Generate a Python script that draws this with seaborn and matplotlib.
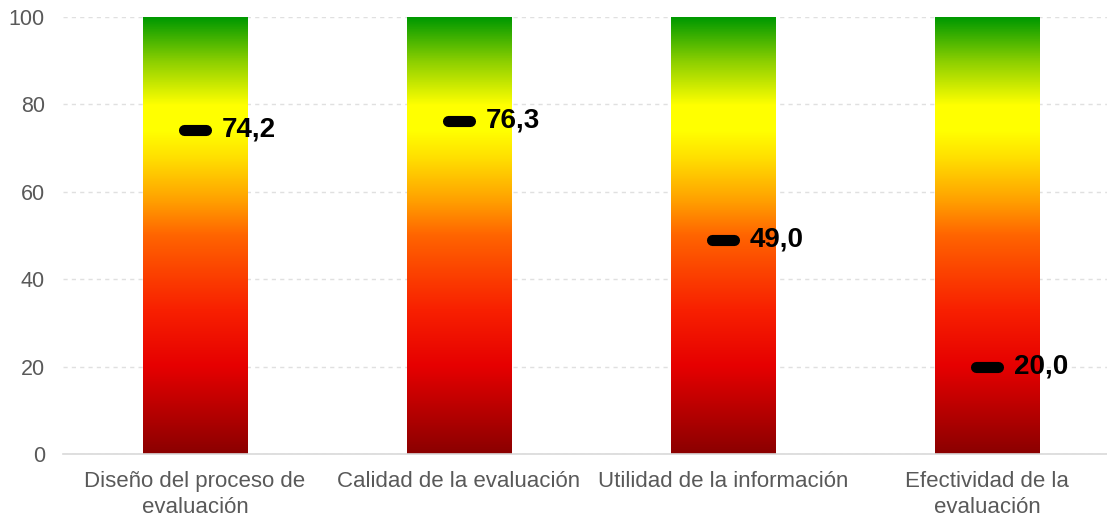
import numpy as np
import pandas as pd
import matplotlib
matplotlib.use("Agg")
import matplotlib.pyplot as plt
from matplotlib.colors import LinearSegmentedColormap
import seaborn as sns

# Data
categories = ["Diseño del proceso de\nevaluación", "Calidad de la evaluación",
              "Utilidad de la información", "Efectividad de la\nevaluación"]
scale_max = [100, 100, 100, 100]
scores = [74.2, 76.3, 49.0, 20.0]
score_labels = ["74,2", "76,3", "49,0", "20,0"]

df = pd.DataFrame({"categoria": categories, "max": scale_max, "valor": scores})

sns.set_style("white")
plt.rcParams["font.family"] = ["Liberation Sans", "DejaVu Sans"]

# red -> orange -> yellow -> green gradient
grad = LinearSegmentedColormap.from_list("semaforo", [
    (0.00, "#8b0000"), (0.20, "#e60000"), (0.33, "#f82000"),
    (0.50, "#ff6400"), (0.58, "#ffa000"), (0.68, "#ffe000"),
    (0.74, "#ffff00"), (0.80, "#ffff00"), (0.90, "#8ccf00"),
    (1.00, "#009900")])

fig = plt.figure(figsize=(11.07, 5.2), dpi=100)
ax = fig.add_axes([63 / 1107, 66 / 520, 1044 / 1107, 437 / 520])

sns.barplot(data=df, x="categoria", y="max", ax=ax, width=0.394,
            facecolor="none", edgecolor="none")

ramp = np.linspace(0, 1, 256).reshape(-1, 1)
for patch in ax.patches:
    x0, y0 = patch.get_x(), patch.get_y()
    w, h = patch.get_width(), patch.get_height()
    im = ax.imshow(ramp, cmap=grad, origin="lower", aspect="auto",
                   extent=[x0, x0 + w, y0, y0 + h], zorder=2)
    im.set_clip_path(patch)

# score markers and labels
for i, (v, lab) in enumerate(zip(scores, score_labels)):
    ax.plot([i - 0.042, i + 0.042], [v, v], color="black", lw=8,
            solid_capstyle="round", zorder=4)
    ax.text(i + 0.102, v, lab, ha="left", va="center", fontsize=20,
            fontweight="bold", color="black", zorder=5,
            family=["Liberation Sans Narrow", "Liberation Sans"])

ax.set_xlim(-0.5, 3.4545)
ax.set_ylim(0, 100)
ax.set_yticks([0, 20, 40, 60, 80, 100])
ax.yaxis.grid(True, color="#e0e0e0", linestyle=(0, (3, 3)), lw=1)
ax.set_axisbelow(True)
for s in ["top", "right", "left"]:
    ax.spines[s].set_visible(False)
ax.spines["bottom"].set_color("#d9d9d9")
ax.spines["bottom"].set_linewidth(1.2)
ax.tick_params(axis="y", length=0, labelsize=15.5, colors="#595959", pad=13)
ax.tick_params(axis="x", length=0, labelsize=16, colors="#595959", pad=12)
for t in ax.get_xticklabels():
    t.set_linespacing(1.32)
ax.set_xlabel("")
ax.set_ylabel("")

fig.savefig("out.png", dpi=100)
